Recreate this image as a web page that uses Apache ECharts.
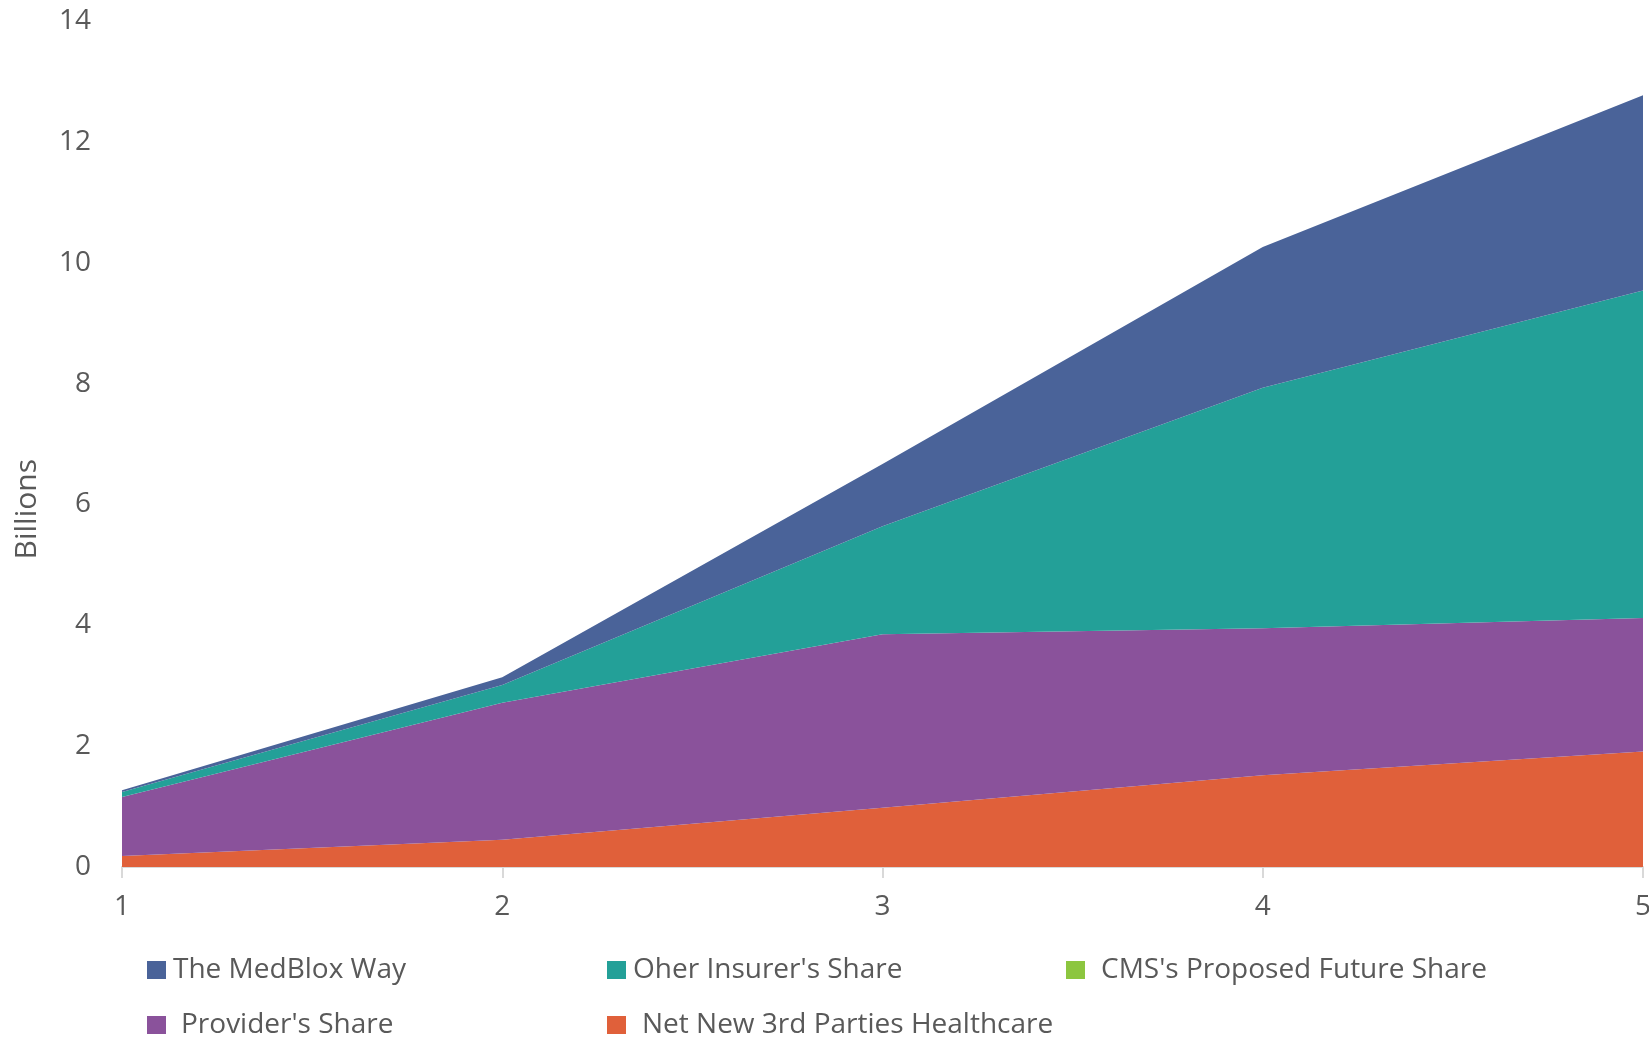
<!DOCTYPE html>
<html>
<head>
<meta charset="utf-8">
<script src="https://cdn.jsdelivr.net/npm/echarts@6/dist/echarts.min.js"></script>
<style>
  html, body { margin: 0; padding: 0; background: #ffffff; }
  #chart { width: 1649px; height: 1040px; }
</style>
</head>
<body>
<div id="chart"></div>
<script>
// Years on the horizontal axis
const categories = ['1', '2', '3', '4', '5'];

// Stacked layers, bottom to top (billions)
const netNew3rdParties = [0.18, 0.45, 0.98, 1.52, 1.91];
const providersShare   = [0.98, 2.27, 2.87, 2.43, 2.21];
const cmsFutureShare   = [0, 0, 0, 0, 0];
const otherInsurers    = [0.08, 0.29, 1.79, 3.98, 5.42];
const medBloxWay       = [0.03, 0.13, 1.03, 2.33, 3.23];

const yTicks = { min: 0, max: 14, interval: 2 };

const textColor = '#595959';
const fontFamily = '"Open Sans", "Noto Sans", sans-serif';

const colors = {
  medBlox: '#4a6399',
  other: '#23a098',
  cms: '#8cc63f',
  provider: '#8a529b',
  netNew: '#e0603a'
};

function areaSeries(name, data, color) {
  return {
    name: name,
    type: 'line',
    stack: 'total',
    data: data,
    symbol: 'none',
    showSymbol: false,
    lineStyle: { width: 0 },
    itemStyle: { color: color },
    areaStyle: { color: color, opacity: 1 },
    emphasis: { disabled: true }
  };
}

function legendItem(name, left, top, textGap) {
  return {
    data: [name],
    left: left,
    top: top,
    icon: 'rect',
    itemWidth: 19,
    itemHeight: 18,
    itemGap: 0,
    selectedMode: false,
    textStyle: { color: textColor, fontSize: 28, fontFamily: fontFamily, padding: [0, 0, 0, textGap] }
  };
}

const chart = echarts.init(document.getElementById('chart'));
chart.setOption({
  backgroundColor: '#ffffff',
  animation: false,
  grid: {
    left: 122, right: 6, top: 21, bottom: 173,
    containLabel: false,
    // the last category label is allowed to run off the right edge
    outerBoundsMode: 'none'
  },
  legend: [
    legendItem('The MedBlox Way', 142, 951, 2),
    legendItem("Oher Insurer's Share", 602, 951, 2),
    legendItem("CMS's Proposed Future Share", 1061, 951, 11),
    legendItem("Provider's Share", 142, 1006, 10),
    legendItem('Net New 3rd Parties Healthcare', 602, 1006, 11)
  ],
  graphic: [{
    type: 'text',
    left: 12,
    top: 459,
    rotation: Math.PI / 2,
    style: {
      text: 'Billions',
      fill: textColor,
      font: '30px ' + fontFamily
    }
  }],
  xAxis: {
    type: 'category',
    data: categories,
    boundaryGap: false,
    axisLine: { show: true, lineStyle: { color: '#d9d9d9', width: 2 } },
    axisTick: { show: true, length: 11, lineStyle: { color: '#d9d9d9', width: 2 } },
    axisLabel: { color: textColor, fontSize: 28, fontFamily: fontFamily, margin: 26 },
    splitLine: { show: false }
  },
  yAxis: {
    type: 'value',
    min: yTicks.min,
    max: yTicks.max,
    interval: yTicks.interval,
    axisLine: { show: false },
    axisTick: { show: false },
    splitLine: { show: false },
    axisLabel: { color: textColor, fontSize: 28, fontFamily: fontFamily, margin: 31 }
  },
  series: [
    areaSeries('Net New 3rd Parties Healthcare', netNew3rdParties, colors.netNew),
    areaSeries("Provider's Share", providersShare, colors.provider),
    areaSeries("CMS's Proposed Future Share", cmsFutureShare, colors.cms),
    areaSeries("Oher Insurer's Share", otherInsurers, colors.other),
    areaSeries('The MedBlox Way', medBloxWay, colors.medBlox)
  ]
});
</script>
</body>
</html>
